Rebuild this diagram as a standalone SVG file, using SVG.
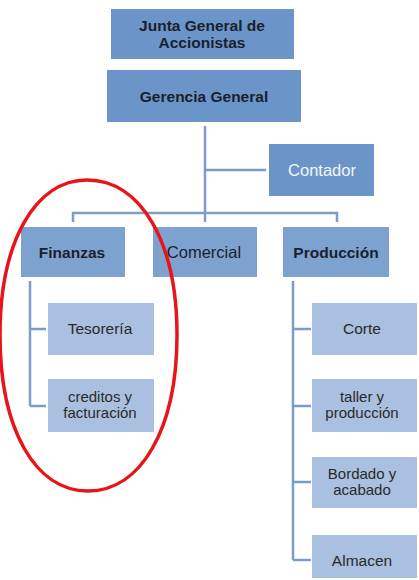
<svg xmlns="http://www.w3.org/2000/svg" width="419" height="580" viewBox="0 0 419 580">
<style>
.top{fill:#6b95c9}
.l2{fill:#7ea2d0}
.l3{fill:#a9c0e0}
.ln{stroke:#7c9ccc;stroke-width:2.5;fill:none}
text{font-family:"Liberation Sans",Arial,sans-serif;text-anchor:middle;font-size:15.5px;fill:#1a1f2e}
.b{font-weight:bold}
.w{fill:#f4f6fa;font-size:16.5px}
.s{font-size:15.5px;fill:#2a2a2a}
.s2{font-size:15px;fill:#2a2a2a}
</style>
<rect width="419" height="580" fill="#ffffff"/>
<g id="connectors">
<path class="ln" d="M205,126 V222"/>
<path class="ln" d="M205,170 H266"/>
<path class="ln" d="M73,222 V213 H337 V222"/>
<path class="ln" d="M30,281 V406 M30,329 H46 M30,406 H46"/>
<path class="ln" d="M293,281 V560 M293,329 H311 M293,406 H311 M293,482 H311 M293,560 H311"/>
</g>
<g id="junta"><rect class="top" x="111" y="9" width="183" height="50"/><text class="b" x="202" y="31">Junta General de</text><text class="b" x="202" y="48">Accionistas</text></g>
<g id="gerencia"><rect class="top" x="107" y="70" width="194" height="52"/><text class="b" x="204" y="102">Gerencia General</text></g>
<g id="contador"><rect class="top" x="269" y="144" width="105" height="52"/><text class="w" x="322" y="176">Contador</text></g>
<g id="finanzas"><rect class="l2" x="21" y="227" width="104" height="50"/><text class="b" x="72" y="258">Finanzas</text></g>
<g id="comercial"><rect class="l2" x="153" y="227" width="104" height="50"/><text x="204" y="258" style="font-size:16.5px">Comercial</text></g>
<g id="produccion"><rect class="l2" x="283" y="227" width="106" height="50"/><text class="b" x="336" y="258">Producción</text></g>
<g id="tesoreria"><rect class="l3" x="48" y="303" width="106" height="52"/><text class="s" x="100" y="334">Tesorería</text></g>
<g id="creditos"><rect class="l3" x="48" y="379" width="106" height="53"/><text class="s2" x="100" y="402">creditos y</text><text class="s2" x="100" y="418">facturación</text></g>
<g id="corte"><rect class="l3" x="312" y="303" width="105" height="52"/><text class="s" x="362" y="334">Corte</text></g>
<g id="taller"><rect class="l3" x="312" y="379" width="105" height="53"/><text class="s2" x="362" y="402">taller y</text><text class="s2" x="362" y="418">producción</text></g>
<g id="bordado"><rect class="l3" x="312" y="457" width="105" height="51"/><text class="s2" x="362" y="479">Bordado y</text><text class="s2" x="362" y="495">acabado</text></g>
<g id="almacen"><rect class="l3" x="312" y="535" width="105" height="43"/><text class="s" x="362" y="566">Almacen</text></g>
<path d="M87,180 C141,180 177,242 177,335 C177,429 141,491 88,491 C35,491 0,429 0,335 C0,242 35,180 87,180 Z" fill="none" stroke="#e8141a" stroke-width="3.5"/>
</svg>
